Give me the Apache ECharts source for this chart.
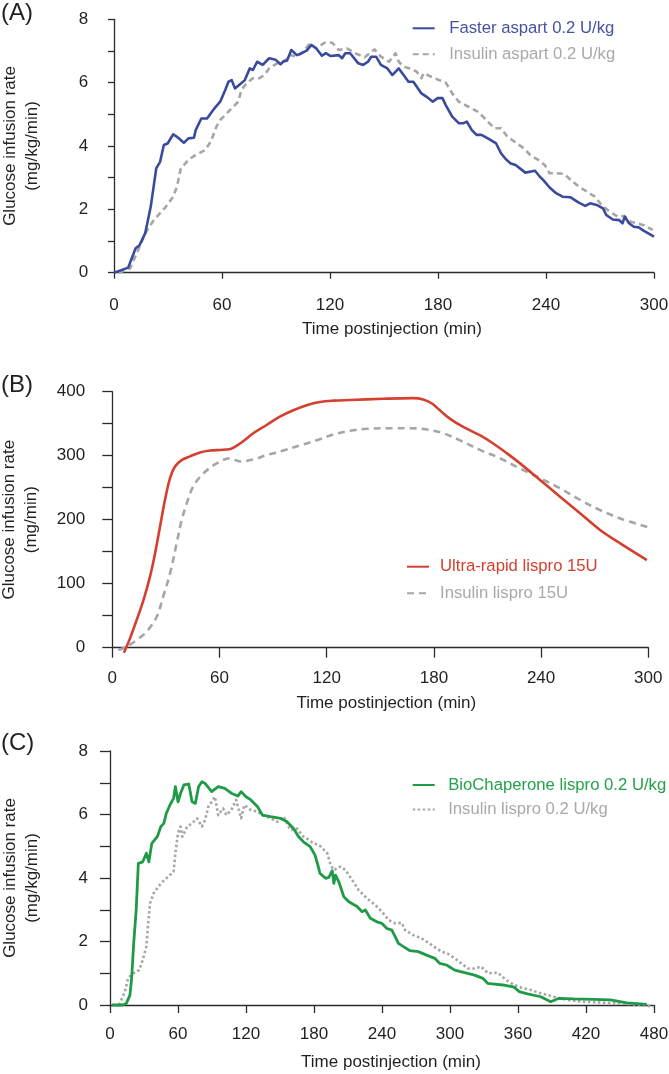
<!DOCTYPE html>
<html>
<head>
<meta charset="utf-8">
<script src="https://cdn.jsdelivr.net/npm/echarts@6/dist/echarts.min.js"></script>
<style>
html,body{margin:0;padding:0;background:#fff;}
#chart{width:669px;height:1074px;}
</style>
</head>
<body>
<div id="chart"></div>
<script>
// ---------- data (time in min, value) ----------
const panelLabels = ['(A)', '(B)', '(C)'];
const xTitle = 'Time postinjection (min)';
const yTitleA = 'Glucose infusion rate\n(mg/kg/min)';
const yTitleB = 'Glucose infusion rate\n(mg/min)';
const yTitleC = 'Glucose infusion rate\n(mg/kg/min)';

const nameFasterAspart = 'Faster aspart 0.2 U/kg';
const nameInsulinAspart = 'Insulin aspart 0.2 U/kg';
const nameUltraRapid = 'Ultra-rapid lispro 15U';
const nameLispro15 = 'Insulin lispro 15U';
const nameBioChaperone = 'BioChaperone lispro 0.2 U/kg';
const nameLispro02 = 'Insulin lispro 0.2 U/kg';

const fasterAspart = [[0,0],[7.9,0.16],[12,0.77],[14.2,0.87],[17.3,1.24],[20.4,2.08],[23.5,3.3],[25.6,3.5],[27.7,4.03],[29.8,4.08],[32.9,4.37],[35,4.29],[38.8,4.1],[41.3,4.24],[44.4,4.26],[45.4,4.5],[48.5,4.87],[51.7,4.87],[55.8,5.19],[59,5.4],[61.8,5.77],[63.6,6.03],[65.4,6.08],[67.2,5.82],[69,5.9],[72.7,6.08],[75.4,6.45],[77.2,6.4],[79.5,6.66],[82.6,6.56],[86.2,6.77],[89.8,6.72],[92.5,6.58],[94.3,6.68],[96.1,6.69],[98.5,7.03],[101.6,6.87],[104.3,6.93],[107,7.01],[109.7,7.19],[112.4,7.08],[115.5,6.85],[117.7,6.93],[120.4,6.84],[124.9,6.87],[126.7,6.77],[128.5,6.93],[131.2,6.93],[135.7,6.61],[138.4,6.56],[141.1,6.66],[142.9,6.82],[145.6,6.82],[148.3,6.56],[151.9,6.45],[154.6,6.24],[158.2,6.45],[160.9,6.24],[163.6,6.03],[166.3,6.03],[170.8,5.66],[173.5,5.56],[177.1,5.4],[179.8,5.51],[182.5,5.51],[184.3,5.29],[187.9,4.93],[191.5,4.72],[194.2,4.72],[196,4.77],[198.7,4.51],[201.4,4.35],[204.1,4.35],[207.7,4.24],[212.3,4.08],[215,3.77],[217.7,3.58],[220.4,3.45],[223.1,3.4],[228.5,3.16],[233.9,3.22],[236.6,3.03],[238.4,2.93],[242,2.69],[245.6,2.51],[249.2,2.4],[253.7,2.38],[258.2,2.21],[261.8,2.11],[264.5,2.19],[268.1,2.14],[271.7,2.03],[273.5,1.82],[277.1,1.68],[280.7,1.66],[282.5,1.56],[283.8,1.77],[286.1,1.56],[288.8,1.45],[291.5,1.43],[294.2,1.33],[300,1.14]];

const insulinAspart = [[2.7,0],[9,0.14],[14.2,0.82],[17.3,1.24],[21.5,1.61],[24.6,1.82],[28.8,2.08],[32.9,2.4],[35,2.72],[37.1,3.29],[41.3,3.56],[45.4,3.72],[50.6,3.87],[53.8,4.14],[56.9,4.61],[59,4.82],[61.8,4.98],[65.4,5.19],[69,5.4],[70.8,5.77],[73.6,5.98],[77.2,6.14],[80.8,6.14],[83.5,6.24],[86.2,6.45],[90.7,6.61],[94.3,6.66],[97.9,6.87],[101.6,6.82],[105.2,6.98],[108.8,7.24],[112.4,7.08],[116.9,7.26],[121.3,7.26],[124.9,7.03],[129.4,7.08],[133.9,6.93],[139.3,6.8],[144.7,7.05],[148.3,6.82],[152.8,6.66],[156.4,6.93],[158.2,6.66],[160.9,6.5],[164.5,6.45],[168.1,6.35],[170.8,6.14],[172,6.3],[175.3,6.21],[179.8,6.1],[184.3,6.0],[187.9,5.66],[191.5,5.4],[196.9,5.24],[202.3,5.08],[206.8,4.82],[211.4,4.56],[215,4.56],[218.6,4.29],[224,4.08],[227.6,3.93],[231.2,3.72],[235.7,3.56],[239.3,3.4],[242,3.14],[245.6,3.14],[250.1,3.12],[253.7,2.93],[258.2,2.72],[262.7,2.56],[267.2,2.4],[270.8,2.14],[275.3,1.93],[279.8,1.77],[283.4,1.79],[287,1.61],[290.6,1.56],[294.2,1.5],[299.3,1.35]];

const ultraRapidLispro = [[6.5,-7.8],[9.9,14.6],[13.6,43],[17.4,74],[21.1,111],[23.9,147],[26.7,189],[29.5,231],[32.3,265],[35.1,283],[38.8,293],[43.5,299],[49.1,305],[54.7,308],[60.3,309],[65.5,310],[71.5,319],[78.9,335],[86.4,348],[93.8,361],[101.3,371],[108.8,379],[116.2,384],[124,386],[133,387],[151.7,389],[168.5,390],[174,388],[178.7,382],[183.3,371],[188.9,358],[196.4,345],[205.7,332],[213.2,319],[220.7,304],[228.2,288],[239.4,262],[250.6,236],[261.8,210],[273,184],[284.3,163],[299.2,137]];

const insulinLispro15 = [[3.4,-3.6],[8,1.6],[13.6,12],[19.2,25],[24.8,48],[28.5,80],[32.3,116],[36,163],[38.8,199],[41.6,225],[45.3,252],[50.9,272],[58.4,288],[65.9,296],[71.5,291],[78.9,294],[86.4,301],[95.7,308],[105,316],[114.4,324],[123.7,333],[133,339],[142.4,342],[157.3,343],[166.6,343],[176,341],[185.3,335],[194.6,324],[205.8,309],[217,296],[228.2,280],[239.4,265],[250.6,249],[261.8,231],[273,215],[284.3,202],[300,188]];

const bioChaperoneLispro = [[1.6,0],[11.2,0],[14.4,0.05],[17.6,0.31],[19.2,0.89],[20.9,1.94],[23.1,2.99],[25,4.46],[28.9,4.51],[32.1,4.78],[34.3,4.51],[36.9,5.09],[41.7,5.3],[44.9,5.62],[47.5,5.72],[49.7,6.04],[52.9,6.3],[56.1,6.51],[57.7,6.88],[60,6.4],[62.3,6.67],[65.2,6.93],[69.5,6.96],[72.4,6.4],[75.3,6.35],[78.2,6.88],[81.1,7.03],[83.9,6.98],[89.7,6.72],[95.5,6.88],[101.3,6.82],[107,6.67],[112.8,6.58],[115.7,6.72],[120,6.56],[124.3,6.46],[130.1,6.25],[134.5,5.98],[141.7,5.93],[150.4,5.88],[156.2,5.77],[162,5.56],[166.4,5.3],[170.7,5.14],[176.5,4.99],[180.9,4.72],[183.8,4.36],[185.2,4.15],[190.2,3.99],[193.1,4.02],[196.1,4.23],[197.5,3.83],[199,4.09],[201.9,3.88],[206.3,3.41],[210.7,3.25],[218,3.1],[222.4,2.94],[225.3,2.99],[229.7,2.73],[235.5,2.62],[239.9,2.57],[244.3,2.41],[248.7,2.36],[251.6,2.15],[254.5,1.94],[258.9,1.84],[264.7,1.71],[272,1.68],[279.3,1.57],[286.6,1.47],[291,1.31],[296.9,1.26],[304.2,1.1],[312.9,1.02],[321.7,0.94],[329,0.84],[333.4,0.68],[339.2,0.66],[346.5,0.63],[356.7,0.56],[361.1,0.42],[368.4,0.35],[380.1,0.26],[388.9,0.1],[396.2,0.21],[409.3,0.19],[426.9,0.18],[441.5,0.16],[456.1,0.07],[473.6,0.02]];

const insulinLispro02 = [[8,0],[13,0.4],[16,0.85],[20.9,1.0],[25.7,1.1],[28.9,1.42],[32.1,1.84],[33.7,2.57],[35.3,3.2],[38.5,3.52],[44.9,3.83],[51.3,4.04],[56.1,4.2],[57.7,4.78],[60,5.41],[62.3,5.62],[63.8,5.3],[68.1,5.62],[72.4,5.72],[76.8,5.88],[81.1,5.62],[83.9,5.83],[86.8,6.25],[89.7,6.4],[92.6,6.56],[95.5,5.98],[99.8,6.19],[102.7,5.98],[107,6.14],[111.3,6.46],[115.7,5.88],[118.6,6.3],[124.3,6.14],[130.1,6.09],[134.5,5.98],[141.7,5.88],[147.5,5.77],[153.3,5.93],[159.1,5.51],[164.9,5.56],[170.7,5.3],[175.6,5.2],[179.4,5.09],[184.4,5.04],[191.7,4.78],[194.6,4.41],[197.5,4.25],[203.4,4.36],[207.8,4.25],[213.6,3.94],[219.4,3.62],[226.7,3.36],[234,3.15],[239.9,2.94],[245.7,2.68],[251.6,2.57],[257.4,2.59],[260.3,2.36],[267.6,2.2],[274.9,2.1],[283.7,1.89],[292.5,1.68],[298.3,1.61],[304.2,1.47],[310,1.31],[315.8,1.15],[321.7,1.15],[327.5,1.21],[333.4,1.0],[342.1,1.02],[349.4,0.79],[356.7,0.63],[362.6,0.55],[371.4,0.47],[380.1,0.37],[391.8,0.26],[403.5,0.16],[418.1,0.1],[432.7,0.08],[450.2,0.05],[461.9,0.02],[479.4,-0.05]];

// ---------- styling ----------
const FONT = '"Liberation Sans", Arial, Helvetica, sans-serif';
const TXT = '#231f20';
const AX = '#2b2b2b';
const BLUE = '#3a4a9c', BLUE_T = '#4652a3';
const GRAY = '#a6a6a8', GRAY_T = '#a9a9ab';
const RED = '#d4402f';
const GREEN = '#1f9b48', GREEN_T = '#22a24b';

function yAxisCfg(gridIndex, max, interval, labelEvery, name, offset, tickLen, margin, nameGap) {
  return {
    type: 'value', gridIndex, min: 0, max, interval, offset, name,
    nameLocation: 'middle', nameRotate: 90, nameGap, nameMoveOverlap: false,
    nameTextStyle: { fontFamily: FONT, fontSize: 17, color: TXT, lineHeight: 22 },
    axisLine: { show: true, lineStyle: { color: AX, width: 1.3 } },
    axisTick: { show: true, length: tickLen, lineStyle: { color: AX, width: 1.3 } },
    axisLabel: { fontFamily: FONT, fontSize: 17, color: TXT, margin,
      formatter: v => (v % labelEvery === 0 ? String(v) : '') },
    splitLine: { show: false }
  };
}
function xAxisCfg(gridIndex, max, offset, tickLen, nameGap, namePad) {
  return {
    type: 'value', gridIndex, min: 0, max, interval: 60, offset, name: xTitle,
    nameLocation: 'middle', nameGap, nameMoveOverlap: false,
    nameTextStyle: { fontFamily: FONT, fontSize: 17, color: TXT, padding: [0, 0, 0, namePad] },
    axisLine: { show: true, lineStyle: { color: AX, width: 1.3 } },
    axisTick: { show: true, length: tickLen, lineStyle: { color: AX, width: 1.3 } },
    axisLabel: { fontFamily: FONT, fontSize: 17, color: TXT, margin: 13 },
    splitLine: { show: false }
  };
}
function legendCfg(left, top, gap, textPad, items) {
  return {
    orient: 'vertical', left, top, padding: 0, itemGap: gap,
    itemWidth: 22, itemHeight: 14,
    itemStyle: { opacity: 0 },
    textStyle: { fontFamily: FONT, fontSize: 16.7, lineHeight: 17, padding: [0, 0, 0, textPad] },
    data: items.map(([name, color]) => ({ name, textStyle: { color }, itemStyle: { opacity: 0 } }))
  };
}
function lineSeries(name, data, x, color, width, type, extra) {
  return Object.assign({
    name, type: 'line', xAxisIndex: x, yAxisIndex: x, data,
    showSymbol: false, symbol: 'none', clip: false,
    lineStyle: { color, width, type, cap: 'butt', join: 'round' },
    itemStyle: { color }, emphasis: { disabled: true }, animation: false
  }, extra || {});
}

const chart = echarts.init(document.getElementById('chart'), null, { renderer: 'canvas' });
chart.setOption({
  backgroundColor: '#ffffff',
  animation: false,
  grid: [
    { left: 114, right: 15, top: 19.3, height: 253.4, outerBoundsMode: 'none', containLabel: false },
    { left: 112.3, right: 20.7, top: 391.7, height: 256, outerBoundsMode: 'none', containLabel: false },
    { left: 110, right: 15, top: 751, height: 254, outerBoundsMode: 'none', containLabel: false }
  ],
  xAxis: [
    xAxisCfg(0, 300, 11, 6, 37, 16),
    xAxisCfg(1, 300, 9.3, 10, 38, 12),
    xAxisCfg(2, 480, 7.7, 8, 41, 18)
  ],
  yAxis: [
    yAxisCfg(0, 8, 1, 2, yTitleA, 14, 6, 11.7, 57),
    yAxisCfg(1, 400, 50, 100, yTitleB, 11.6, 10, 15.5, 58),
    yAxisCfg(2, 8, 1, 2, yTitleC, 10, 10, 12, 57)
  ],
  legend: [
    legendCfg(411.7, 19.8, 9, 9.5, [[nameFasterAspart, BLUE_T], [nameInsulinAspart, GRAY_T]]),
    legendCfg(406, 558.2, 9.6, 6, [[nameUltraRapid, RED], [nameLispro15, GRAY_T]]),
    legendCfg(411.7, 776.5, 7.5, 8.5, [[nameBioChaperone, GREEN_T], [nameLispro02, GRAY_T]])
  ],
  graphic: panelLabels.map((t, i) => ({
    type: 'text', left: 1, top: [1, 373, 731][i],
    style: { text: t, fontFamily: FONT, fontSize: 24, fill: TXT }
  })),
  series: [
    lineSeries(nameInsulinAspart, insulinAspart, 0, GRAY, 2.6, [6, 4]),
    lineSeries(nameFasterAspart, fasterAspart, 0, BLUE, 2.6, 'solid'),
    lineSeries(nameLispro15, insulinLispro15, 1, GRAY, 2.6, [7, 5], { smooth: 0.35 }),
    lineSeries(nameUltraRapid, ultraRapidLispro, 1, RED, 2.6, 'solid', { smooth: 0.35 }),
    lineSeries(nameLispro02, insulinLispro02, 2, GRAY, 2.6, [2.5, 2.5]),
    lineSeries(nameBioChaperone, bioChaperoneLispro, 2, GREEN, 2.8, 'solid')
  ]
});
</script>
</body>
</html>
